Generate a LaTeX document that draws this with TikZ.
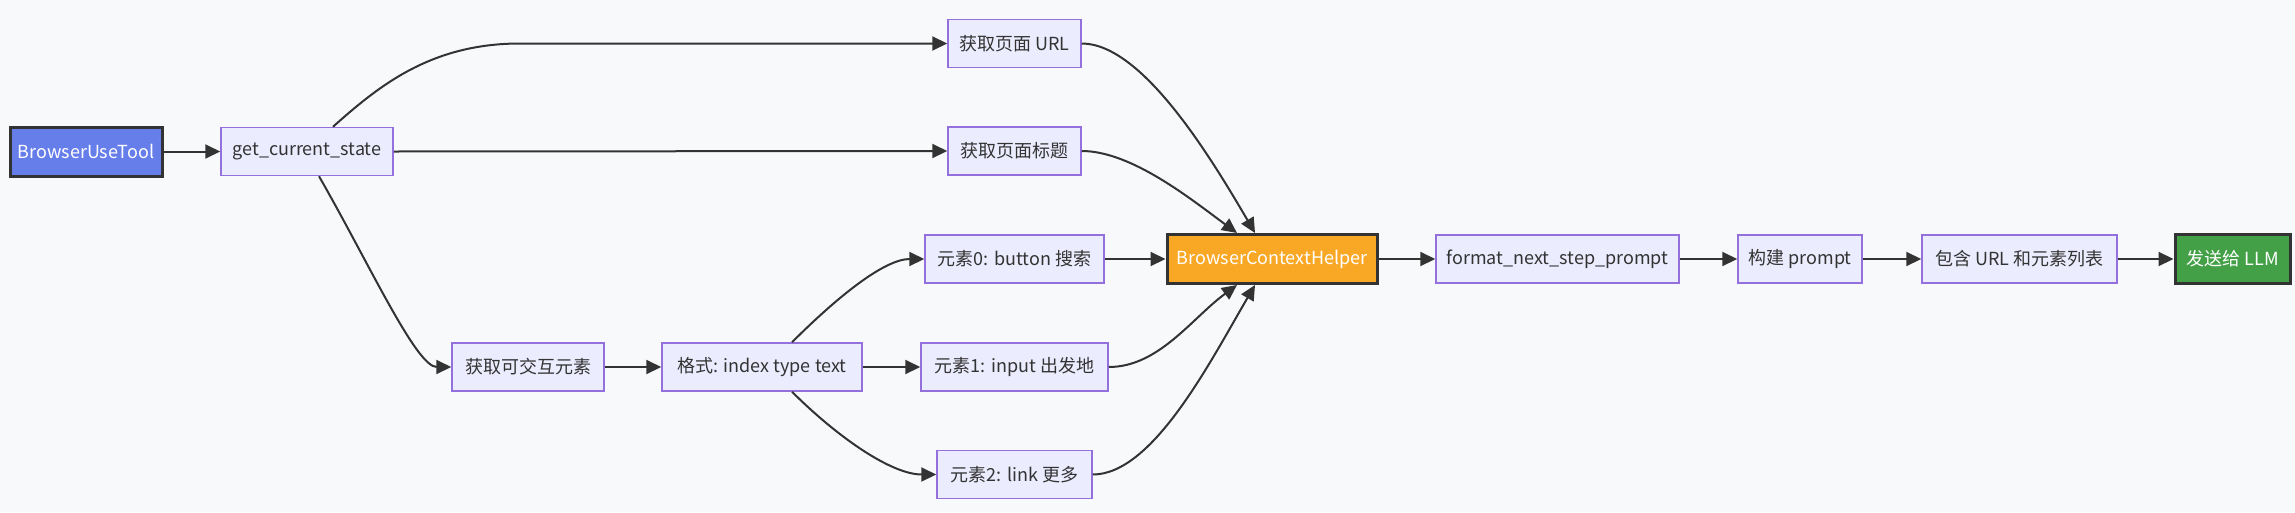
\documentclass[tikz,border=0pt]{standalone}
\usepackage{fontspec}
\setmainfont{Noto Sans CJK SC}
\usetikzlibrary{arrows.meta}
\definecolor{pagebg}{HTML}{F8F9FA}
\definecolor{boxfill}{HTML}{ECECFF}
\definecolor{boxline}{HTML}{9370DB}
\definecolor{ink}{HTML}{333333}
\definecolor{toolblue}{HTML}{667EEA}
\definecolor{helperorange}{HTML}{F9A826}
\definecolor{llmgreen}{HTML}{43A047}

\begin{document}
\begin{tikzpicture}[x=1pt,y=-1pt,>={Triangle[length=15pt,width=14pt]},
  box/.style={draw=boxline,fill=boxfill,line width=1.5pt,text=ink,inner sep=0pt,
    minimum height=48pt,font=\fontsize{18pt}{22pt}\selectfont},
  keybox/.style={box,draw=ink,line width=3pt,text=white,minimum height=49pt,fill=#1},
  flow/.style={->,draw=ink,line width=2pt}]
\fill[pagebg] (0,0) rectangle (2295,512);
\useasboundingbox (0,0) rectangle (2295,512);
% left part
\node[keybox=toolblue,minimum width=152pt] (tool) at (86,151.5) {BrowserUseTool};
\node[box,minimum width=172pt] (gcs) at (307,151.5) {get\_current\_state};
\node[box,minimum width=133pt] (url) at (1014.5,43.5) {获取页面 URL};
\node[box,minimum width=133pt] (title) at (1014.5,151) {获取页面标题};
\node[box,minimum width=152pt] (fetch) at (528,367) {获取可交互元素};
\node[box,minimum width=200pt] (fmt) at (762,367) {格式: index type text};
\node[box,minimum width=179pt] (el0) at (1014.5,259) {元素0: button 搜索};
\node[box,minimum width=187pt] (el1) at (1014.5,367) {元素1: input 出发地};
\node[box,minimum width=155pt] (el2) at (1014.5,474.5) {元素2: link 更多};
% right part
\node[keybox=helperorange,minimum width=210pt] (helper) at (1272,259) {BrowserContextHelper};
\node[box,minimum width=243pt] (prompt) at (1557.5,259) {format\_next\_step\_prompt};
\node[box,minimum width=124pt] (build) at (1800,259) {构建 prompt};
\node[box,minimum width=195pt] (incl) at (2019.5,259) {包含 URL 和元素列表};
\node[keybox=llmgreen,minimum width=115pt] (llm) at (2232.5,259) {发送给 LLM};
\coordinate (urlbend) at (520,43.5);

\draw[flow] (tool.east) -- (gcs.west);
\draw[flow] ([xshift=26pt]gcs.north) .. controls +(45,-40) and +(-90,0) .. (urlbend) -- (url.west);
\draw[flow] (gcs.east) -- (title.west);
\draw[flow] ([xshift=12pt]gcs.south) .. controls +(50,87) and +(-35,0) .. (fetch.west);
\draw[flow] (fetch.east) -- (fmt.west);
\draw[flow] ([xshift=30pt]fmt.north) .. controls +(45,-45) and +(-40,0) .. (el0.west);
\draw[flow] (fmt.east) -- (el1.west);
\draw[flow] ([xshift=30pt]fmt.south) .. controls +(45,45) and +(-45,0) .. (el2.west);
\draw[flow] (url.east) .. controls +(60,0) and +(-45,-77) .. ([xshift=-17pt]helper.north);
\draw[flow] (title.east) .. controls +(50,0) and +(-45,-33) .. ([xshift=-35pt]helper.north);
\draw[flow] (el0.east) -- (helper.west);
\draw[flow] (el1.east) .. controls +(50,0) and +(-45,33) .. ([xshift=-35pt]helper.south);
\draw[flow] (el2.east) .. controls +(60,0) and +(-45,77) .. ([xshift=-17pt]helper.south);
\draw[flow] (helper.east) -- (prompt.west);
\draw[flow] (prompt.east) -- (build.west);
\draw[flow] (build.east) -- (incl.west);
\draw[flow] (incl.east) -- (llm.west);
\end{tikzpicture}
\end{document}
